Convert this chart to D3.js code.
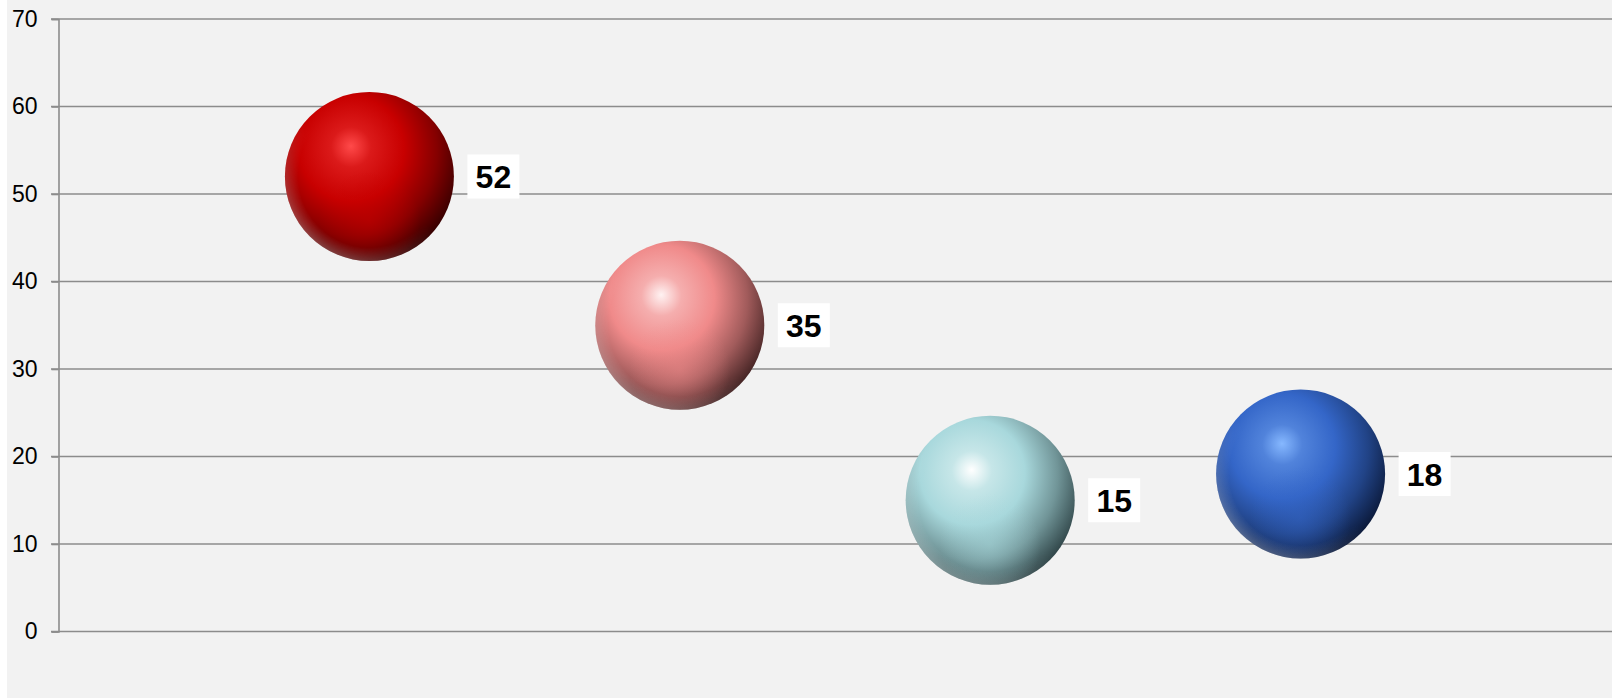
<!DOCTYPE html>
<html>
<head>
<meta charset="utf-8">
<script src="https://cdn.jsdelivr.net/npm/d3@7"></script>
<style>
  html, body { margin: 0; padding: 0; background: #fff; }
  svg { display: block; }
</style>
</head>
<body>
<div id="chart"></div>
<script>
// data
var positions = [1, 2, 3, 4];
var values = [52, 35, 15, 18];
var yTicks = [0, 10, 20, 30, 40, 50, 60, 70];
// ball colours: highlight, base, shadow
var highlights = ["#ff4a4a", "#fff2f2", "#ffffff", "#86b8ff"];
var bases = ["#c80000", "#f08a8a", "#a8d8dc", "#3466c8"];
var shadows = ["#200000", "#2a1414", "#1e3032", "#050e24"];

var width = 1612,
    height = 699;

var svg = d3.select("#chart").append("svg")
    .attr("width", width)
    .attr("height", height);

svg.append("rect")
    .attr("x", 7).attr("y", 0)
    .attr("width", width - 7).attr("height", height - 1)
    .attr("fill", "#f2f2f2");

var x = d3.scaleLinear().domain([0, 5]).range([59, 1611]);
var y = d3.scaleLinear().domain([0, 70]).range([631.5, 19]);

var defs = svg.append("defs");

positions.forEach(function(p, i) {
  var g = defs.append("radialGradient")
      .attr("id", "ball" + i)
      .attr("cx", "0.4").attr("cy", "0.36").attr("r", "0.74")
      .attr("fx", "0.39").attr("fy", "0.32");
  g.append("stop").attr("offset", "0").attr("stop-color", highlights[i]);
  g.append("stop").attr("offset", "0.16").attr("stop-color", d3.interpolateRgb(highlights[i], bases[i])(0.65));
  g.append("stop").attr("offset", "0.42").attr("stop-color", bases[i]);
  g.append("stop").attr("offset", "0.68").attr("stop-color", d3.interpolateRgb(bases[i], shadows[i])(0.4));
  g.append("stop").attr("offset", "0.9").attr("stop-color", d3.interpolateRgb(bases[i], shadows[i])(0.85));
  g.append("stop").attr("offset", "1").attr("stop-color", shadows[i]);

  // soft reflected light near the bottom
  var r = defs.append("radialGradient")
      .attr("id", "refl" + i)
      .attr("cx", "0.5").attr("cy", "0.76").attr("r", "0.3");
  r.append("stop").attr("offset", "0").attr("stop-color", bases[i]).attr("stop-opacity", 0.5);
  r.append("stop").attr("offset", "1").attr("stop-color", bases[i]).attr("stop-opacity", 0);
});

// rim light at the lower left edge
var rim = defs.append("radialGradient")
    .attr("id", "rim")
    .attr("cx", "0.5").attr("cy", "0.5").attr("r", "0.5");
rim.append("stop").attr("offset", "0.84").attr("stop-color", "#fff").attr("stop-opacity", 0);
rim.append("stop").attr("offset", "1").attr("stop-color", "#fff").attr("stop-opacity", 0.25);

var rimMask = defs.append("linearGradient")
    .attr("id", "rimfade")
    .attr("x1", "0.8").attr("y1", "0.2").attr("x2", "0.2").attr("y2", "0.9");
rimMask.append("stop").attr("offset", "0.45").attr("stop-color", "#000");
rimMask.append("stop").attr("offset", "1").attr("stop-color", "#fff");
defs.append("mask").attr("id", "rimmask")
    .attr("maskContentUnits", "objectBoundingBox")
  .append("rect")
    .attr("width", 1).attr("height", 1)
    .attr("fill", "url(#rimfade)");

// gridlines
svg.append("g")
    .selectAll("line")
    .data(yTicks)
  .enter().append("line")
    .attr("x1", 51).attr("x2", width)
    .attr("y1", function(d) { return y(d); })
    .attr("y2", function(d) { return y(d); })
    .attr("stroke", "#8c8c8c")
    .attr("stroke-width", 1.6);

// y axis
var yAxis = d3.axisLeft(y)
    .tickValues(yTicks)
    .tickSize(7)
    .tickPadding(14);

var ya = svg.append("g")
    .attr("transform", "translate(58.5,0)")
    .call(yAxis);
ya.select(".domain").attr("stroke", "#8c8c8c").attr("stroke-width", 1.6);
ya.selectAll(".tick line").attr("stroke", "#8c8c8c").attr("stroke-width", 1.6);
ya.selectAll(".tick text")
    .attr("fill", "#000")
    .style("font-family", "'Liberation Sans', Arial, sans-serif")
    .style("font-size", "23px");

// balls
var radius = 84.5;
var balls = svg.append("g")
    .selectAll("g")
    .data(values)
  .enter().append("g")
    .attr("transform", function(d, i) { return "translate(" + x(positions[i]) + "," + y(d) + ")"; });

balls.append("circle")
    .attr("r", radius)
    .attr("fill", function(d, i) { return "url(#ball" + i + ")"; });
balls.append("circle")
    .attr("r", radius)
    .attr("fill", function(d, i) { return "url(#refl" + i + ")"; });
balls.append("circle")
    .attr("r", radius)
    .attr("fill", "url(#rim)")
    .attr("mask", "url(#rimmask)");

// value labels
var labels = svg.append("g")
    .selectAll("g")
    .data(values)
  .enter().append("g")
    .attr("transform", function(d, i) { return "translate(" + (x(positions[i]) + 98) + "," + y(d) + ")"; });

labels.append("rect")
    .attr("x", 0).attr("y", -22)
    .attr("width", 52).attr("height", 44)
    .attr("fill", "#fff");

labels.append("text")
    .attr("x", 26).attr("y", 11.5)
    .attr("text-anchor", "middle")
    .style("font-family", "'Liberation Sans', Arial, sans-serif")
    .style("font-weight", "bold")
    .style("font-size", "32px")
    .text(function(d) { return d; });
</script>
</body>
</html>
